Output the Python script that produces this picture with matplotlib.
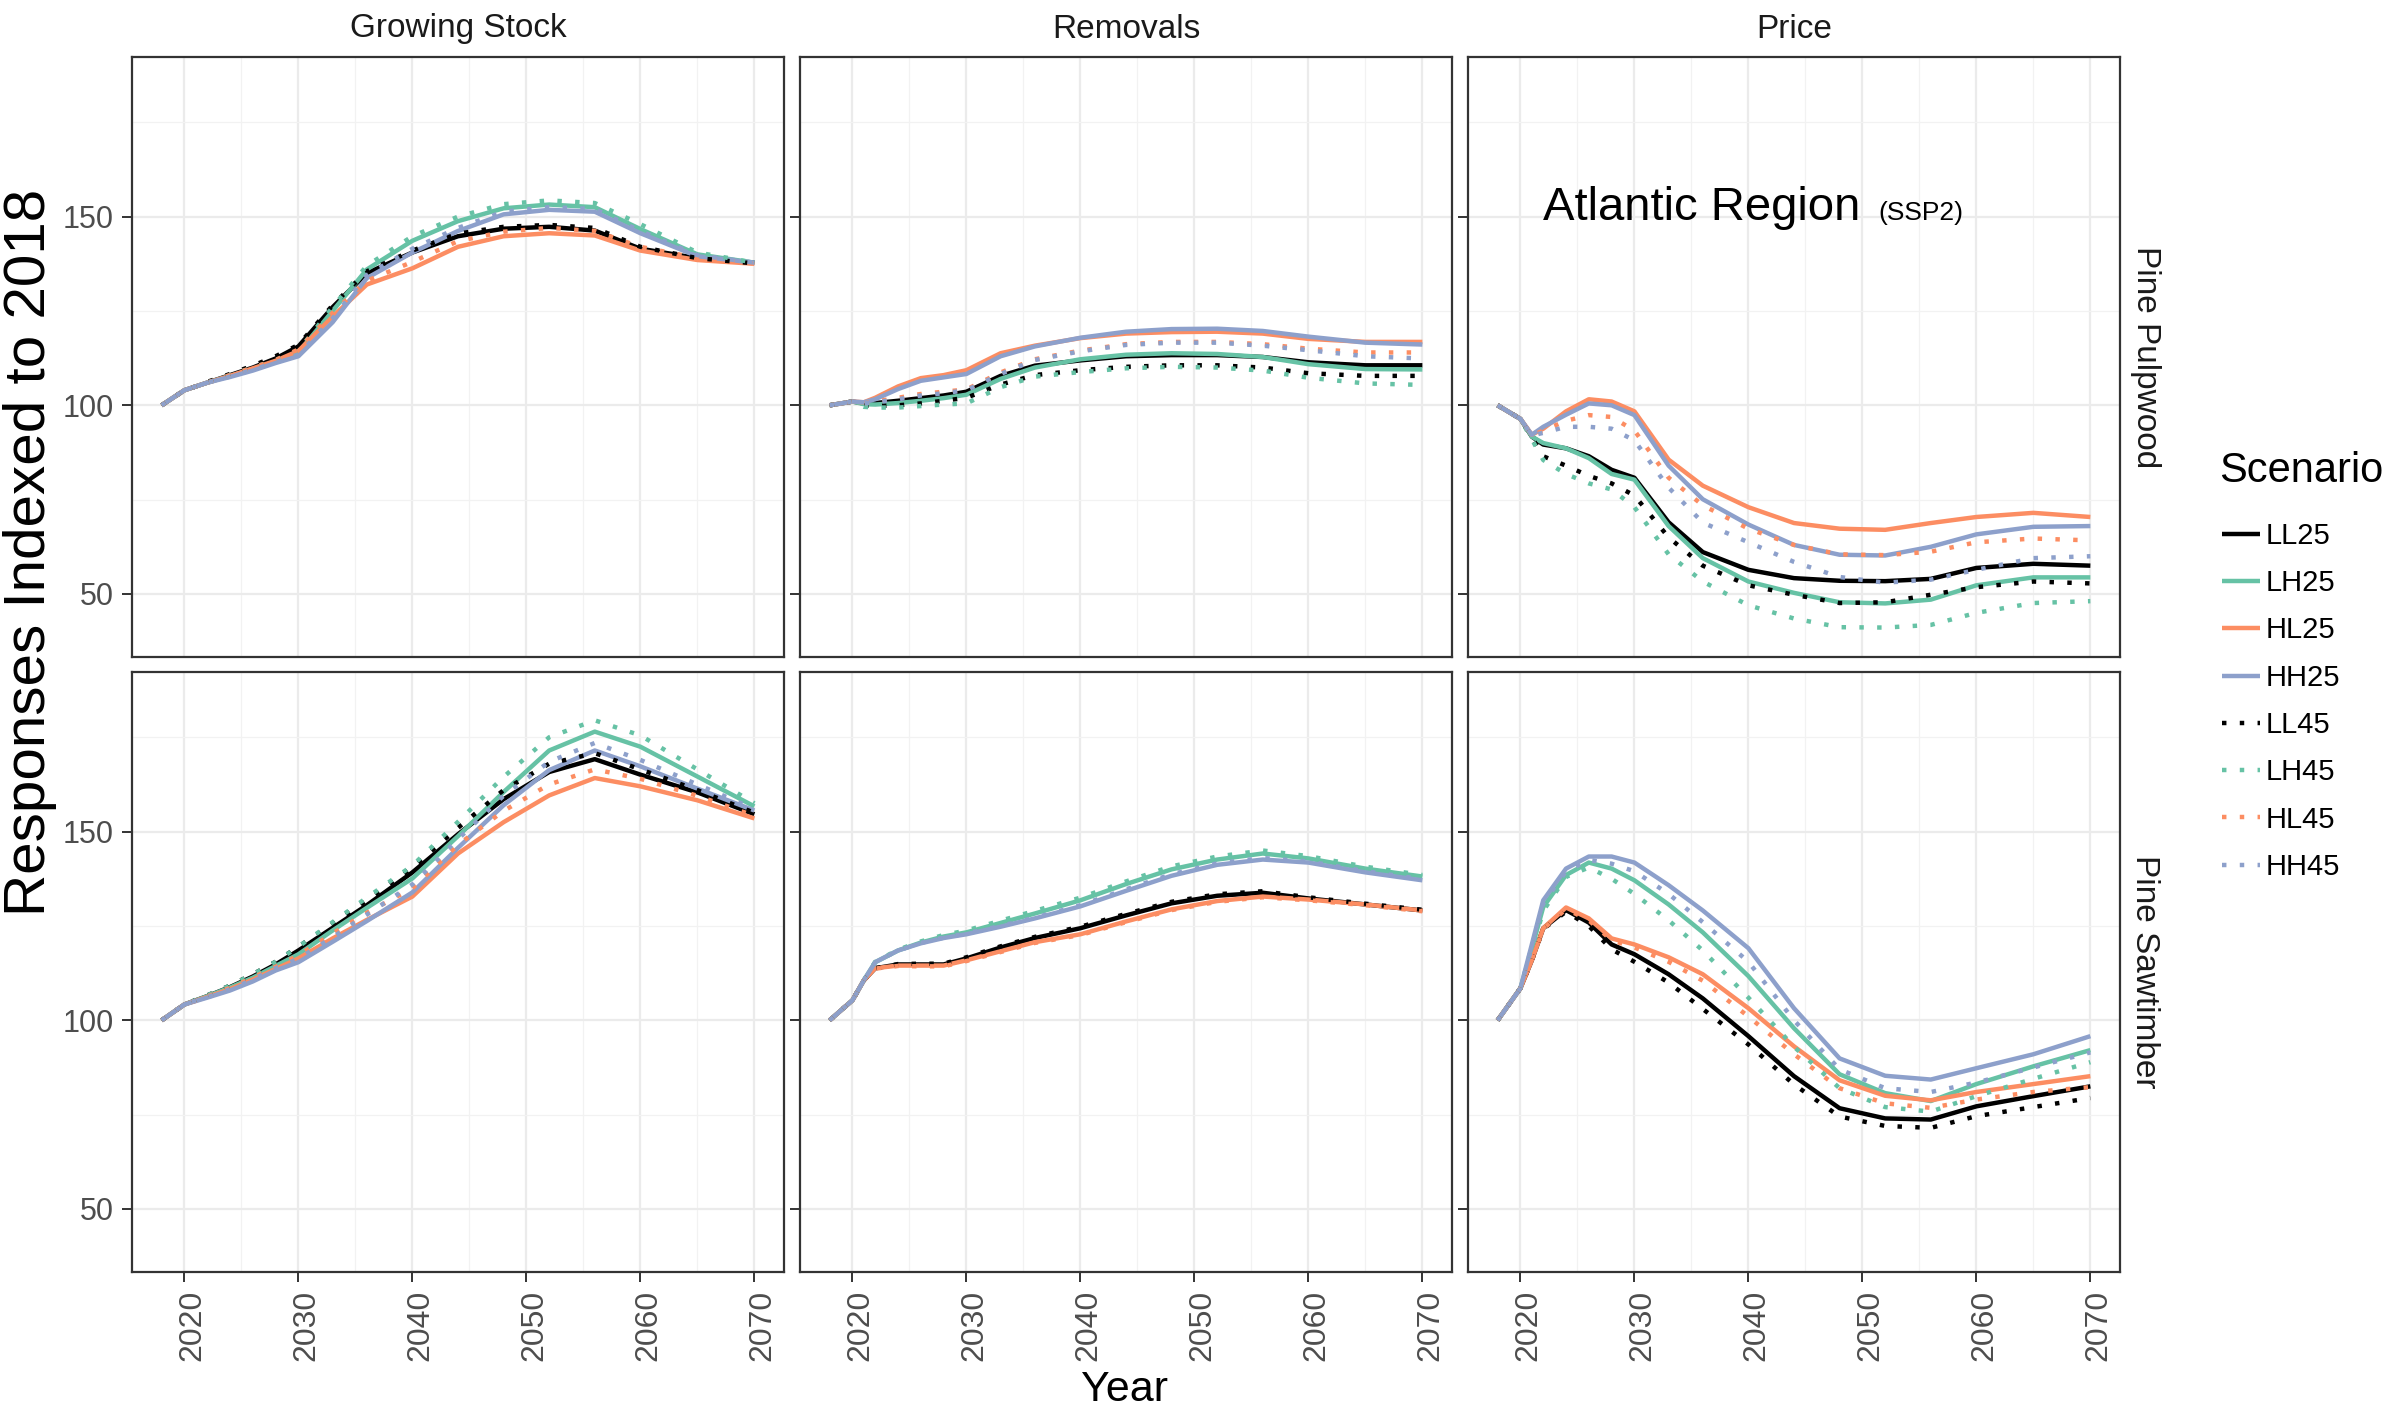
import matplotlib
matplotlib.use('Agg')
import matplotlib.pyplot as plt
from matplotlib.lines import Line2D
from matplotlib.ticker import MultipleLocator
from matplotlib.transforms import ScaledTranslation

plt.rcParams['font.family'] = ['Liberation Sans', 'DejaVu Sans']

YEARS = [2018, 2020, 2021, 2022, 2024, 2026, 2028, 2030, 2033, 2036,
         2040, 2044, 2048, 2052, 2056, 2060, 2065, 2070]

SCENARIOS = ['LL25', 'LH25', 'HL25', 'HH25', 'LL45', 'LH45', 'HL45', 'HH45']
COLUMNS = ['Growing Stock', 'Removals', 'Price']
ROWS = ['Pine Pulpwood', 'Pine Sawtimber']

# Growing Stock - Pine Pulpwood
GROWING_PULP = {
    'LL25': [100, 104, 105, 106, 108, 110, 112.4, 115.6, 126, 135, 140.5, 144.8, 146.8, 147.3, 146.3, 141.5, 139, 137.8],
    'LH25': [100, 104, 105, 106, 107.8, 109.5, 111.6, 114, 125, 136, 143.6, 148.8, 152.2, 153.2, 152.5, 146.7, 140, 137.8],
    'HL25': [100, 104, 105, 106, 107.8, 109.8, 111.8, 114.4, 123.5, 132, 136.3, 142, 144.8, 145.6, 145, 141, 138.5, 137.5],
    'HH25': [100, 104, 105, 106, 107.5, 109.2, 111.2, 113, 122, 133.7, 140.5, 146.2, 150.6, 151.8, 151.3, 145.6, 139.5, 137.8],
    'LL45': [100, 104, 105, 106.2, 108.3, 110.5, 113, 116, 126.5, 135.5, 141, 145.5, 147.3, 147.8, 147, 142, 139, 137.6],
    'LH45': [100, 104, 105, 106, 108, 110, 112, 114.5, 126, 137, 144.8, 150, 153.3, 154.3, 153.6, 148, 140.5, 137.8],
    'HL45': [100, 104, 105, 106, 108, 110, 112, 114.8, 124.5, 133, 138, 143.5, 146, 147, 146.2, 142, 139, 137.6],
    'HH45': [100, 104, 105, 106, 107.6, 109.4, 111.4, 113.4, 123, 134.5, 141.5, 147, 151.3, 152.5, 152, 146.2, 139.8, 137.8],
}

# Removals - Pine Pulpwood
REMOVALS_PULP = {
    'LL25': [100, 101, 100.5, 100.6, 101.2, 101.9, 102.6, 103.6, 107.8, 110.5, 111.9, 113, 113.3, 113.3, 112.8, 111.4, 110.6, 110.6],
    'LH25': [100, 101, 100.3, 100.2, 100.6, 101.2, 101.9, 102.8, 107, 110, 112.2, 113.4, 113.8, 113.6, 112.8, 110.9, 109.6, 109.5],
    'HL25': [100, 101, 100.8, 102, 105, 107.2, 108, 109.3, 113.8, 115.8, 117.8, 119, 119.4, 119.5, 119, 117.6, 116.8, 116.8],
    'HH25': [100, 101, 100.8, 101.6, 104.3, 106.5, 107.4, 108.3, 113, 115.6, 117.9, 119.5, 120.2, 120.3, 119.7, 118.2, 116.6, 116.1],
    'LL45': [100, 101, 100, 99.8, 100, 100.5, 101.2, 102, 105.5, 108, 109.3, 110.2, 110.6, 110.6, 110, 108.5, 107.8, 107.8],
    'LH45': [100, 101, 99.6, 99.4, 99.4, 99.8, 100.2, 100.5, 104.8, 107.6, 108.8, 109.8, 110.2, 110, 109.2, 107.3, 105.8, 105.4],
    'HL45': [100, 101, 100.5, 101, 102, 103, 103.6, 104.2, 108.7, 112.2, 114.5, 116.2, 116.8, 116.8, 116.2, 115, 114, 114],
    'HH45': [100, 101, 100.5, 100.8, 101.6, 102.6, 103.2, 104, 108.3, 112, 114.3, 116, 116.6, 116.6, 115.8, 114.6, 113, 112.4],
}

# Price - Pine Pulpwood
PRICE_PULP = {
    'LL25': [100, 96.4, 91.7, 89.6, 88.6, 86.5, 82.9, 80.8, 69, 61.1, 56.4, 54.2, 53.5, 53.4, 54, 56.9, 58, 57.5],
    'LH25': [100, 96.4, 91.7, 90, 88.6, 86, 81.8, 80.3, 68, 59.5, 53.3, 50.3, 47.8, 47.5, 48.5, 52.3, 54.4, 54.4],
    'HL25': [100, 96.4, 92.2, 93.8, 98.4, 101.6, 101, 98.4, 85.6, 78.7, 73, 68.8, 67.3, 67, 68.8, 70.4, 71.5, 70.4],
    'HH25': [100, 96.4, 92.2, 94.3, 97.5, 100.5, 100, 97.4, 84, 75.1, 68.4, 63, 60.4, 60.2, 62.5, 65.8, 67.8, 68],
    'LL45': [100, 96.4, 91.5, 86.5, 84, 81.3, 79.3, 76.1, 65, 57.5, 52.3, 49.8, 47.6, 47.8, 49.8, 51.8, 53.3, 52.8],
    'LH45': [100, 96.4, 91, 85.5, 81.8, 79.3, 77.7, 73, 60.5, 53.3, 47, 43.5, 41.2, 41.1, 41.8, 45, 47.6, 48.1],
    'HL45': [100, 96.4, 92, 93.3, 95.9, 97.4, 96.9, 93.3, 80.8, 73.5, 67.3, 63, 60.5, 60.3, 61.2, 63.7, 64.7, 64.2],
    'HH45': [100, 96.4, 92, 92.7, 94.3, 94.3, 93.8, 90.7, 78.2, 68.9, 63.7, 58.5, 54.5, 53, 53.8, 56.4, 59.5, 60],
}

# Growing Stock - Pine Sawtimber
GROWING_SAW = {
    'LL25': [100, 104.2, 105.3, 106.4, 108.8, 111.6, 114.8, 118.5, 124.5, 130.5, 139.2, 149.3, 158.6, 165.8, 169.2, 165.1, 160.4, 154.6],
    'LH25': [100, 104.2, 105.3, 106.4, 108.7, 111.3, 114.4, 117.5, 123.8, 129.8, 137.6, 148.8, 160.5, 171.5, 176.5, 172.5, 164.6, 156.7],
    'HL25': [100, 104.2, 105.2, 106.2, 108.3, 110.8, 113.6, 116.4, 121.7, 126.6, 132.8, 144.2, 152.5, 159.6, 164.2, 162, 158.3, 153.5],
    'HH25': [100, 104.2, 105.1, 106, 107.9, 110.3, 113.2, 115.4, 120.8, 126.3, 133.9, 145.7, 157, 166.3, 171.5, 167.3, 161.4, 155.6],
    'LL45': [100, 104.2, 105.4, 106.6, 109.2, 112.2, 115.5, 119.5, 125.6, 131.8, 140.5, 151, 161, 168, 170.8, 166.5, 161, 155],
    'LH45': [100, 104.2, 105.4, 106.6, 109.2, 112.2, 115.5, 119.5, 126, 132.5, 141, 152.6, 164.5, 175, 179.5, 175.5, 166.5, 157.5],
    'HL45': [100, 104.2, 105.2, 106.3, 108.6, 111.3, 114.2, 117.2, 123, 128.5, 135, 146.5, 155.5, 162.5, 166.5, 164, 159.5, 154.2],
    'HH45': [100, 104.2, 105.2, 106.1, 108.2, 110.8, 113.8, 116.3, 122, 128, 136, 148, 159.5, 168.5, 173.5, 169, 162.5, 156],
}

# Removals - Pine Sawtimber
REMOVALS_SAW = {
    'LL25': [100, 105.3, 110.6, 113.8, 114.8, 114.8, 114.8, 116.4, 119.3, 121.8, 124.4, 127.8, 131, 133, 133.8, 132.3, 130.7, 129.1],
    'LH25': [100, 105.3, 110.6, 115.4, 118.5, 120.6, 122.2, 123.3, 125.8, 128.3, 131.8, 136.1, 140, 142.6, 144.2, 142.9, 140.2, 138.1],
    'HL25': [100, 105.3, 110.6, 113.8, 114.5, 114.5, 114.5, 115.9, 118.3, 120.7, 122.8, 126.2, 129.4, 131.6, 132.8, 132, 130.7, 129.1],
    'HH25': [100, 105.3, 110.6, 115.4, 118.5, 120.4, 121.8, 122.8, 124.8, 127, 130.2, 134.3, 138.3, 141.2, 142.6, 141.8, 139.2, 137.1],
    'LL45': [100, 105.3, 110.6, 113.8, 114.9, 115, 115, 116.7, 119.6, 122.1, 124.8, 128.2, 131.4, 133.4, 134.2, 132.6, 130.9, 129.3],
    'LH45': [100, 105.3, 110.6, 115.5, 118.7, 120.9, 122.6, 123.8, 126.4, 129, 132.5, 136.8, 140.8, 143.4, 145, 143.5, 140.7, 138.5],
    'HL45': [100, 105.3, 110.6, 113.7, 114.4, 114.3, 114.3, 115.7, 118.1, 120.5, 122.6, 126, 129.2, 131.4, 132.6, 131.8, 130.5, 128.9],
    'HH45': [100, 105.3, 110.6, 115.4, 118.5, 120.5, 121.9, 123, 125, 127.2, 130.5, 134.7, 138.7, 141.6, 143, 142.1, 139.5, 137.4],
}

# Price - Pine Sawtimber
PRICE_SAW = {
    'LL25': [100, 108.5, 115.9, 124.4, 129.2, 125.9, 120.1, 117.5, 112.2, 105.8, 95.8, 85.2, 76.7, 74, 73.7, 77.2, 79.9, 82.5],
    'LH25': [100, 108.5, 119, 130, 138.5, 141.8, 140.2, 137.1, 130.7, 123.3, 111.7, 97.9, 85.7, 80.7, 78.6, 83.1, 87.8, 92.1],
    'HL25': [100, 108.5, 115.9, 124.4, 129.9, 127, 121.7, 120.1, 116.7, 112.2, 103.2, 93.1, 84.1, 80, 78.8, 81, 83.1, 85.2],
    'HH25': [100, 108.5, 120.1, 131.8, 140.2, 143.4, 143.4, 141.8, 135.8, 129.1, 119.1, 103.2, 89.9, 85.3, 84.3, 87.3, 91, 95.8],
    'LL45': [100, 108.5, 115.9, 124.2, 128.8, 125, 118.8, 115.5, 110, 103, 93.6, 83, 74.5, 72, 71.5, 74.6, 77, 79.4],
    'LH45': [100, 108.5, 118.5, 129, 138, 140.5, 137.5, 133.5, 126.5, 118.5, 106, 93, 82, 77, 75.8, 79.9, 84.5, 88.9],
    'HL45': [100, 108.5, 115.9, 124.2, 129.5, 126.5, 121.2, 119.3, 115.5, 110.5, 101, 91, 82, 78, 76.8, 79, 81, 82.3],
    'HH45': [100, 108.5, 119.5, 131, 139.5, 142.5, 141.5, 139.5, 133.5, 126, 115.5, 100, 87, 82, 81, 83.5, 87.5, 91.5],
}

PANELS = [[GROWING_PULP, REMOVALS_PULP, PRICE_PULP],
          [GROWING_SAW, REMOVALS_SAW, PRICE_SAW]]

COLORS = {'LL': '#000000', 'LH': '#66C2A5', 'HL': '#FC8D62', 'HH': '#8DA0CB'}

X_TICKS = [2020, 2030, 2040, 2050, 2060, 2070]
Y_TICKS = [50, 100, 150]

LW = 3.2
DOTS = (1.0, 3.0)

fig = plt.figure(figsize=(24.07, 14.11), dpi=100)
W, H = 2407.0, 1411.0
col_left = [132, 800, 1468]
col_w = 652
row_top = [57, 672]
row_h = 600

xshift = ScaledTranslation(8 / 100.0, 0, fig.dpi_scale_trans)

axes = []
for r in range(2):
    for c in range(3):
        ax = fig.add_axes([col_left[c] / W, 1 - (row_top[r] + row_h) / H, col_w / W, row_h / H])
        axes.append(ax)
        data = PANELS[r][c]
        for s in SCENARIOS:
            col = COLORS[s[:2]]
            if s.endswith('25'):
                ax.plot(YEARS, data[s], color=col, lw=LW, solid_capstyle='butt',
                        solid_joinstyle='round', zorder=3)
            else:
                ax.plot(YEARS, data[s], color=col, lw=LW, dashes=DOTS,
                        dash_capstyle='butt', zorder=4)
        ax.set_xlim(2015.4, 2072.6)
        ax.set_ylim(33.3, 192.3)
        ax.set_xticks(X_TICKS)
        ax.set_yticks(Y_TICKS)
        ax.xaxis.set_minor_locator(MultipleLocator(5))
        ax.yaxis.set_minor_locator(MultipleLocator(25))
        ax.grid(which='major', color='#EBEBEB', lw=1.6, zorder=0)
        ax.grid(which='minor', color='#F2F2F2', lw=0.9, zorder=0)
        ax.set_axisbelow(True)
        for sp in ax.spines.values():
            sp.set_color('#333333')
            sp.set_linewidth(1.6)
        ax.tick_params(which='minor', length=0)
        ax.tick_params(which='major', length=7, width=1.4, color='#333333',
                       labelsize=22, labelcolor='#4D4D4D', pad=6)
        if c != 0:
            ax.tick_params(axis='y', labelleft=False)
        if r == 0:
            ax.tick_params(axis='x', labelbottom=False, length=0)
        else:
            ax.tick_params(axis='x', labelsize=23)
            for lab in ax.get_xticklabels():
                lab.set_rotation(90)
                lab.set_transform(lab.get_transform() + xshift)
        if r == 0:
            fig.text((col_left[c] + col_w / 2) / W, 1 - 29 / H, COLUMNS[c],
                     ha='center', va='center', fontsize=24, color='#1A1A1A')
    fig.text(2145 / W, 1 - (row_top[r] + row_h / 2) / H, ROWS[r], rotation=270,
             ha='center', va='center', fontsize=24, color='#1A1A1A')

# annotation in the Price / Pulpwood panel
ax_price = axes[2]
ax_price.text(2022.0, 149.0, 'Atlantic Region', fontsize=34, ha='left', va='baseline', color='black')
ax_price.text(2051.4, 149.0, '(SSP2)', fontsize=19, ha='left', va='baseline', color='black')

fig.text(30 / W, 1 - 552 / H, 'Responses Indexed to 2018', rotation=90,
         ha='center', va='center', fontsize=42)
fig.text(1125 / W, 1 - 1390 / H, 'Year', ha='center', va='center', fontsize=31)

# legend
fig.text(2219 / W, 1 - 471 / H, 'Scenario', ha='left', va='center', fontsize=30)
handles = []
for s in SCENARIOS:
    col = COLORS[s[:2]]
    if s.endswith('25'):
        handles.append(Line2D([], [], color=col, lw=LW, solid_capstyle='butt'))
    else:
        handles.append(Line2D([], [], color=col, lw=LW, dashes=DOTS, dash_capstyle='butt'))
leg = fig.legend(handles, SCENARIOS, loc='upper left', bbox_to_anchor=(2222 / W, 1 - 522 / H),
                 frameon=False, fontsize=21, handlelength=1.3, handletextpad=0.2,
                 labelspacing=0.66, borderpad=0, borderaxespad=0)

fig.savefig('out.png', dpi=100)
